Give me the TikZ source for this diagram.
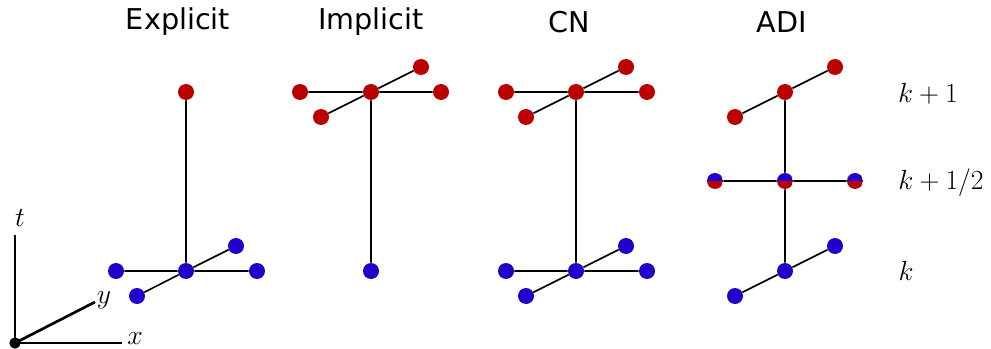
\documentclass[tikz,border=0pt]{standalone}
\usepackage{fontspec}
\newfontfamily\titlefont{DejaVu Sans}
\definecolor{redc}{HTML}{BB0000}
\definecolor{bluec}{HTML}{2200CC}
\begin{document}
\begin{tikzpicture}[x=0.75pt,y=-0.75pt,
  dotr/.style={circle,fill=redc,minimum size=12pt,inner sep=0pt},
  dotb/.style={circle,fill=bluec,minimum size=12pt,inner sep=0pt},
  doth/.style={circle,minimum size=12pt,inner sep=0pt,
    path picture={\fill[redc] (path picture bounding box.west) rectangle (path picture bounding box.south east);
                  \fill[bluec] (path picture bounding box.west) rectangle (path picture bounding box.north east);}},
  link/.style={draw=black,line width=1.2pt},
  axis/.style={draw=black,line width=2pt},
  title/.style={font=\titlefont\fontsize{21.5}{25}\selectfont,anchor=center},
  lab/.style={font=\fontsize{21}{25}\selectfont,anchor=center}]
\useasboundingbox (0,0) rectangle (991,349);
% titles
\node[title] (t1) at (178,22) {Explicit};
\node[title] (t2) at (371,22) {Implicit};
\node[title] (t3) at (569,22) {CN};
\node[title] (t4) at (782,22) {ADI};
% Explicit
\node[dotr] (e1) at (186,92) {};
\node[dotb] (e0) at (186,271) {};
\node[dotb] (e0l) at (116,271) {};
\node[dotb] (e0r) at (257,271) {};
\node[dotb] (e0u) at (236,246) {};
\node[dotb] (e0d) at (137,296) {};
% Implicit
\node[dotr] (i1) at (371,92) {};
\node[dotr] (i1l) at (300,92) {};
\node[dotr] (i1r) at (441,92) {};
\node[dotr] (i1u) at (421,67) {};
\node[dotr] (i1d) at (321,117) {};
\node[dotb] (i0) at (371,271) {};
% CN
\node[dotr] (c1) at (576,92) {};
\node[dotr] (c1l) at (506,92) {};
\node[dotr] (c1r) at (647,92) {};
\node[dotr] (c1u) at (626,67) {};
\node[dotr] (c1d) at (526,117) {};
\node[dotb] (c0) at (576,271) {};
\node[dotb] (c0l) at (506,271) {};
\node[dotb] (c0r) at (647,271) {};
\node[dotb] (c0u) at (626,246) {};
\node[dotb] (c0d) at (526,296) {};
% ADI
\node[dotr] (a1) at (785,92) {};
\node[dotr] (a1u) at (835,67) {};
\node[dotr] (a1d) at (735,117) {};
\node[doth] (ah) at (785,181) {};
\node[doth] (ahl) at (715,181) {};
\node[doth] (ahr) at (855,181) {};
\node[dotb] (a0) at (785,271) {};
\node[dotb] (a0u) at (835,246) {};
\node[dotb] (a0d) at (735,296) {};
% links
\path[link] (e1) -- (e0) (e0l) -- (e0) -- (e0r) (e0d) -- (e0) -- (e0u);
\path[link] (i0) -- (i1) (i1l) -- (i1) -- (i1r) (i1d) -- (i1) -- (i1u);
\path[link] (c0) -- (c1) (c1l) -- (c1) -- (c1r) (c1d) -- (c1) -- (c1u)
  (c0l) -- (c0) -- (c0r) (c0d) -- (c0) -- (c0u);
\path[link] (a1) -- (ah) -- (a0) (a1d) -- (a1) -- (a1u) (ahl) -- (ah) -- (ahr)
  (a0d) -- (a0) -- (a0u);
% level labels
\node[lab] (k1) at (928,94) {$k+1$};
\node[lab] (kh) at (941,183) {$k+1/2$};
\node[lab] (k0) at (906,271) {$k$};
% axes
\node[circle,fill=black,minimum size=8.5pt,inner sep=0pt] (o) at (15,343) {};
\coordinate (tend) at (15,235);
\coordinate (xend) at (122,343);
\coordinate (yend) at (95,302);
\draw[axis] (o.center) -- (tend);
\draw[axis] (o.center) -- (xend);
\draw[axis] (o.center) -- (yend);
\node[lab] (tl) at (20,218) {$t$};
\node[lab] (yl) at (104,300) {$y$};
\node[lab] (xl) at (135,339) {$x$};
\end{tikzpicture}
\end{document}
